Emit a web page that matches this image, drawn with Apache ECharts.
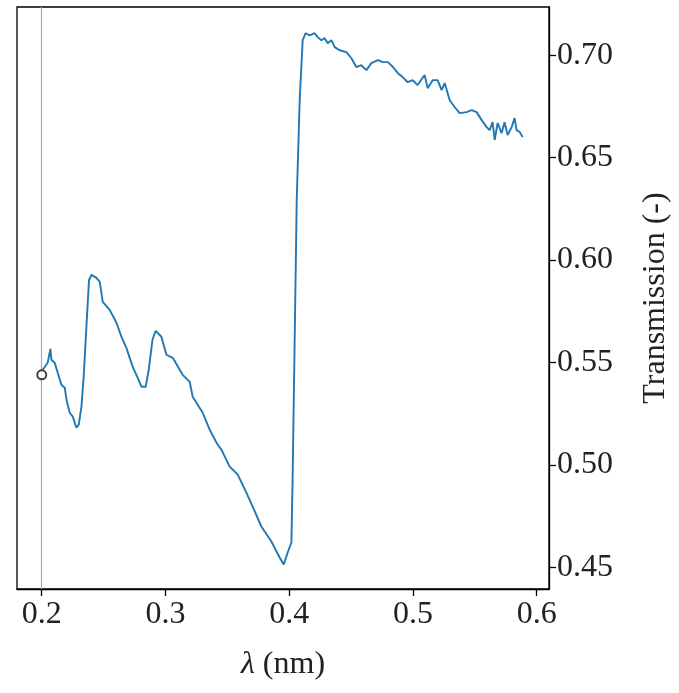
<!DOCTYPE html>
<html>
<head>
<meta charset="utf-8">
<script src="https://cdn.jsdelivr.net/npm/echarts@6/dist/echarts.min.js"></script>
<style>
html, body { margin: 0; padding: 0; background: #fff; }
#main { width: 679px; height: 693px; }
</style>
</head>
<body>
<div id="main"></div>
<script>
// wavelength (nm) and transmission (-)
var wavelength = [
  0.2008, 0.2048, 0.2070, 0.2078, 0.2105, 0.2129, 0.2159, 0.2186, 0.2200, 0.2226,
  0.2251, 0.2280, 0.2299, 0.2321, 0.2339, 0.2361, 0.2382, 0.2402, 0.2442, 0.2469,
  0.2493, 0.2549, 0.2604, 0.2644, 0.2684, 0.2711, 0.2735, 0.2765, 0.2806, 0.2840,
  0.2865, 0.2895, 0.2921, 0.2967, 0.3008, 0.3059, 0.3139, 0.3196, 0.3220, 0.3301,
  0.3358, 0.3412, 0.3452, 0.3519, 0.3584, 0.3654, 0.3705, 0.3775, 0.3856, 0.3923,
  0.3956, 0.3988, 0.4018, 0.4028, 0.4044, 0.4061, 0.4085, 0.4109, 0.4133, 0.4166,
  0.4206, 0.4230, 0.4260, 0.4287, 0.4311, 0.4341, 0.4368, 0.4408, 0.4462, 0.4503,
  0.4543, 0.4583, 0.4624, 0.4664, 0.4718, 0.4758, 0.4798, 0.4839, 0.4879, 0.4917,
  0.4958, 0.4998, 0.5038, 0.5095, 0.5119, 0.5160, 0.5200, 0.5232, 0.5257, 0.5297,
  0.5337, 0.5378, 0.5434, 0.5475, 0.5515, 0.5556, 0.5596, 0.5620, 0.5644, 0.5661,
  0.5685, 0.5717, 0.5741, 0.5766, 0.5798, 0.5822, 0.5838, 0.5863, 0.5887
];
var transmission = [
  0.5465, 0.5499, 0.5567, 0.5514, 0.5499, 0.5450, 0.5392, 0.5377, 0.5319, 0.5255,
  0.5236, 0.5182, 0.5197, 0.5285, 0.5431, 0.5674, 0.5903, 0.5928, 0.5913, 0.5894,
  0.5796, 0.5757, 0.5694, 0.5626, 0.5572, 0.5523, 0.5479, 0.5440, 0.5382, 0.5382,
  0.5465, 0.5611, 0.5655, 0.5626, 0.5538, 0.5523, 0.5440, 0.5406, 0.5333, 0.5255,
  0.5172, 0.5109, 0.5075, 0.4992, 0.4953, 0.4865, 0.4797, 0.4700, 0.4627, 0.4549,
  0.4515, 0.4573, 0.4622, 0.4944, 0.5596, 0.6293, 0.6781, 0.7073, 0.7107, 0.7097,
  0.7107, 0.7088, 0.7073, 0.7083, 0.7058, 0.7073, 0.7039, 0.7024, 0.7015, 0.6985,
  0.6942, 0.6951, 0.6927, 0.6961, 0.6976, 0.6966, 0.6966, 0.6942, 0.6912, 0.6893,
  0.6868, 0.6878, 0.6854, 0.6903, 0.6839, 0.6878, 0.6878, 0.6829, 0.6864, 0.6781,
  0.6747, 0.6717, 0.6722, 0.6732, 0.6722, 0.6683, 0.6649, 0.6634, 0.6673, 0.6586,
  0.6669, 0.6620, 0.6673, 0.6610, 0.6649, 0.6693, 0.6634, 0.6625, 0.6600
];
var xTicks = [0.2, 0.3, 0.4, 0.5, 0.6];
var yTicks = [0.45, 0.50, 0.55, 0.60, 0.65, 0.70];
var markerX = 0.2;
var markerY = 0.544;

var serif = 'Liberation Serif';

var lineData = [];
for (var i = 0; i < wavelength.length; i++) {
  lineData.push([wavelength[i], transmission[i]]);
}

var myChart = echarts.init(document.getElementById('main'));
var option = {
  animation: false,
  backgroundColor: '#fff',
  grid: {
    left: 17,
    right: 130,
    top: 7,
    bottom: 104,
    show: true,
    borderColor: '#000',
    borderWidth: 1.3,
    containLabel: false,
    outerBoundsMode: 'none'
  },
  xAxis: {
    type: 'value',
    min: 0.18,
    max: 0.61,
    name: '{i|λ} (nm)',
    nameLocation: 'middle',
    nameGap: 60,
    nameTextStyle: {
      fontFamily: serif,
      fontSize: 32,
      color: '#222',
      rich: {
        i: { fontFamily: serif, fontStyle: 'italic', fontSize: 32, color: '#222' }
      }
    },
    axisLine: { show: true, lineStyle: { color: '#000', width: 1.3 } },
    axisTick: {
      show: true,
      inside: false,
      length: 7,
      lineStyle: { color: '#000', width: 1.3 },
      customValues: xTicks
    },
    axisLabel: {
      fontFamily: serif,
      fontSize: 32,
      color: '#222',
      margin: 10,
      customValues: xTicks,
      formatter: function (v) { return v.toFixed(1); }
    },
    splitLine: { show: false }
  },
  yAxis: {
    type: 'value',
    position: 'right',
    min: 0.4395,
    max: 0.7235,
    name: 'Transmission (-)',
    nameLocation: 'middle',
    nameRotate: 90,
    nameGap: 91,
    nameTextStyle: { fontFamily: serif, fontSize: 32, color: '#222' },
    axisLine: { show: true, lineStyle: { color: '#000', width: 1.3 } },
    axisTick: {
      show: true,
      inside: false,
      length: 7,
      lineStyle: { color: '#000', width: 1.3 },
      customValues: yTicks
    },
    axisLabel: {
      fontFamily: serif,
      fontSize: 32,
      color: '#222',
      margin: 8,
      customValues: yTicks,
      formatter: function (v) { return v.toFixed(2); }
    },
    splitLine: { show: false }
  },
  series: [
    {
      type: 'line',
      data: lineData,
      showSymbol: false,
      lineStyle: { color: '#1f77b4', width: 1.9 },
      z: 3,
      markLine: {
        silent: true,
        symbol: 'none',
        label: { show: false },
        lineStyle: { color: '#aaa', width: 1.2, type: 'solid' },
        data: [{ xAxis: markerX }]
      }
    },
    {
      type: 'scatter',
      data: [[markerX, markerY]],
      symbol: 'circle',
      symbolSize: 9,
      itemStyle: { color: '#fff', borderColor: '#111', borderWidth: 2 },
      z: 5
    }
  ]
};
myChart.setOption(option);
</script>
</body>
</html>
